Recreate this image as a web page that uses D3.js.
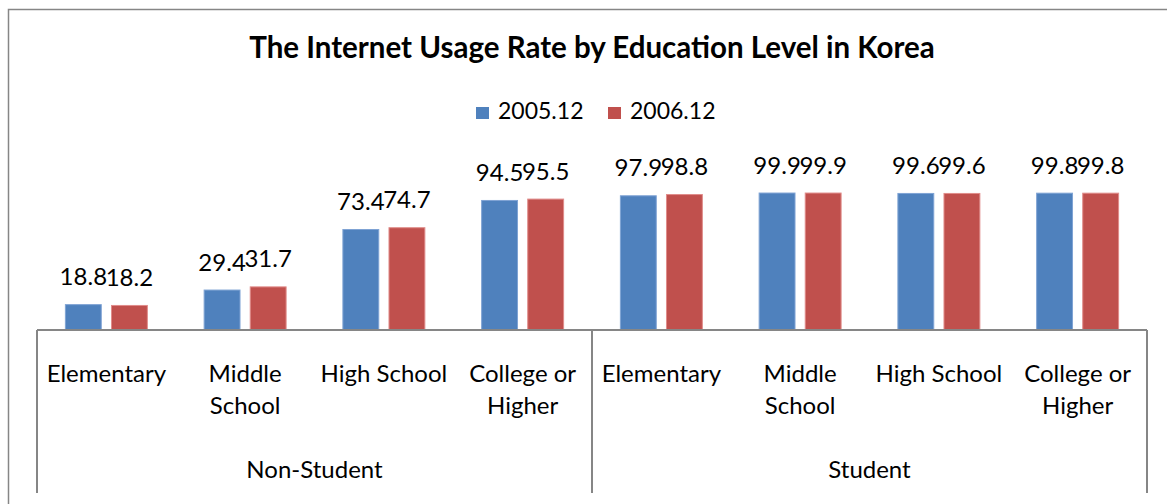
<!DOCTYPE html>
<html>
<head>
<meta charset="utf-8">
<script src="https://cdn.jsdelivr.net/npm/d3@7"></script>
<style>
  body { margin: 0; background: #fff; }
  svg { display: block; font-family: Lato, "Open Sans", sans-serif; }
</style>
</head>
<body>
<svg width="1167" height="504"></svg>
<script>
var groups = ["Non-Student", "Student"];
var levels = ["Elementary", "Middle School", "High School", "College or Higher"];
var levelLines = [["Elementary"], ["Middle", "School"], ["High School"], ["College or", "Higher"]];
var series = ["2005.12", "2006.12"];
var colors = ["#4F81BD", "#C0504D"];
var edges = ["#7fa3d4", "#e08c8a"];
// values per group, per level: [2005.12, 2006.12]
var nonStudent = [[18.8, 18.2], [29.4, 31.7], [73.4, 74.7], [94.5, 95.5]];
var student = [[97.9, 98.8], [99.9, 99.9], [99.6, 99.6], [99.8, 99.8]];

var svg = d3.select("svg"),
    width = +svg.attr("width"),
    height = +svg.attr("height");

var left = 37, right = 1147, baseY = 330;

var rows = [];
groups.forEach(function(g, gi) {
    var vals = gi === 0 ? nonStudent : student;
    levels.forEach(function(l, li) {
        rows.push({ key: g + "|" + l, group: g, level: l, li: li, values: vals[li] });
    });
});

var x = d3.scaleBand()
    .domain(rows.map(function(d) { return d.key; }))
    .range([left, right])
    .paddingInner(0.402)
    .paddingOuter(0.201);

var xs = d3.scaleBand()
    .domain(series)
    .range([0, x.bandwidth()])
    .paddingInner(0.2);

var y = d3.scaleLinear()
    .domain([0, 100])
    .range([baseY, baseY - 137.6]);

// chart border
svg.append("rect")
   .attr("x", 8.5).attr("y", 9.5)
   .attr("width", width + 20).attr("height", height + 20)
   .attr("fill", "none")
   .attr("stroke", "#868686")
   .attr("stroke-width", 1.5);

// title
svg.append("text")
   .attr("x", 592).attr("y", 58)
   .attr("text-anchor", "middle")
   .attr("font-weight", "bold")
   .attr("font-size", 29.5)
   .text("The Internet Usage Rate by Education Level in Korea");

// legend
var legendX = [476, 608];
var leg = svg.selectAll(".leg")
    .data(series)
    .enter().append("g")
    .attr("class", "leg")
    .attr("transform", function(d, i) { return "translate(" + legendX[i] + ",107)"; });
leg.append("rect")
   .attr("width", 13).attr("height", 12)
   .attr("fill", function(d, i) { return colors[i]; });
leg.append("text")
   .attr("x", 22).attr("y", 12)
   .attr("font-size", 23)
   .text(function(d) { return d; });

// bars
var cat = svg.selectAll(".cat")
    .data(rows)
    .enter().append("g")
    .attr("class", "cat")
    .attr("transform", function(d) { return "translate(" + x(d.key) + ",0)"; });

cat.selectAll("rect")
   .data(function(d) { return d.values.map(function(v, i) { return { s: series[i], v: v, i: i }; }); })
   .enter().append("rect")
   .attr("x", function(d) { return xs(d.s) + 0.5; })
   .attr("y", function(d) { return y(d.v) + 0.5; })
   .attr("width", xs.bandwidth() - 1)
   .attr("height", function(d) { return baseY - y(d.v) - 0.5; })
   .attr("fill", function(d) { return colors[d.i]; })
   .attr("stroke", function(d) { return edges[d.i]; })
   .attr("stroke-width", 1);

cat.selectAll(".lbl")
   .data(function(d) { return d.values.map(function(v, i) { return { s: series[i], v: v }; }); })
   .enter().append("text")
   .attr("class", "lbl")
   .attr("x", function(d) { return xs(d.s) + xs.bandwidth() / 2; })
   .attr("y", function(d) { return y(d.v) - 19; })
   .attr("text-anchor", "middle")
   .attr("font-size", 24)
   .text(function(d) { return d3.format(".1f")(d.v); });

// axis
svg.append("line")
   .attr("x1", left).attr("x2", right)
   .attr("y1", baseY).attr("y2", baseY)
   .attr("stroke", "#868686").attr("stroke-width", 2);

var mid = x(rows[4].key) - x.step() * x.paddingInner() / 2;
[left, mid, right].forEach(function(px) {
    svg.append("line")
       .attr("x1", px).attr("x2", px)
       .attr("y1", baseY).attr("y2", 493)
       .attr("stroke", "#868686").attr("stroke-width", 2);
});

cat.append("text")
   .attr("x", x.bandwidth() / 2)
   .attr("y", 382)
   .attr("text-anchor", "middle")
   .attr("font-size", 24)
   .selectAll("tspan")
   .data(function(d) { return levelLines[d.li]; })
   .enter().append("tspan")
   .attr("x", x.bandwidth() / 2)
   .attr("dy", function(d, i) { return i === 0 ? 0 : 32; })
   .text(function(d) { return d; });

var groupCenters = [(left + mid) / 2, (mid + right) / 2];
svg.selectAll(".grp")
   .data(groups)
   .enter().append("text")
   .attr("class", "grp")
   .attr("x", function(d, i) { return groupCenters[i]; })
   .attr("y", 478)
   .attr("text-anchor", "middle")
   .attr("font-size", 24)
   .text(function(d) { return d; });
</script>
</body>
</html>
